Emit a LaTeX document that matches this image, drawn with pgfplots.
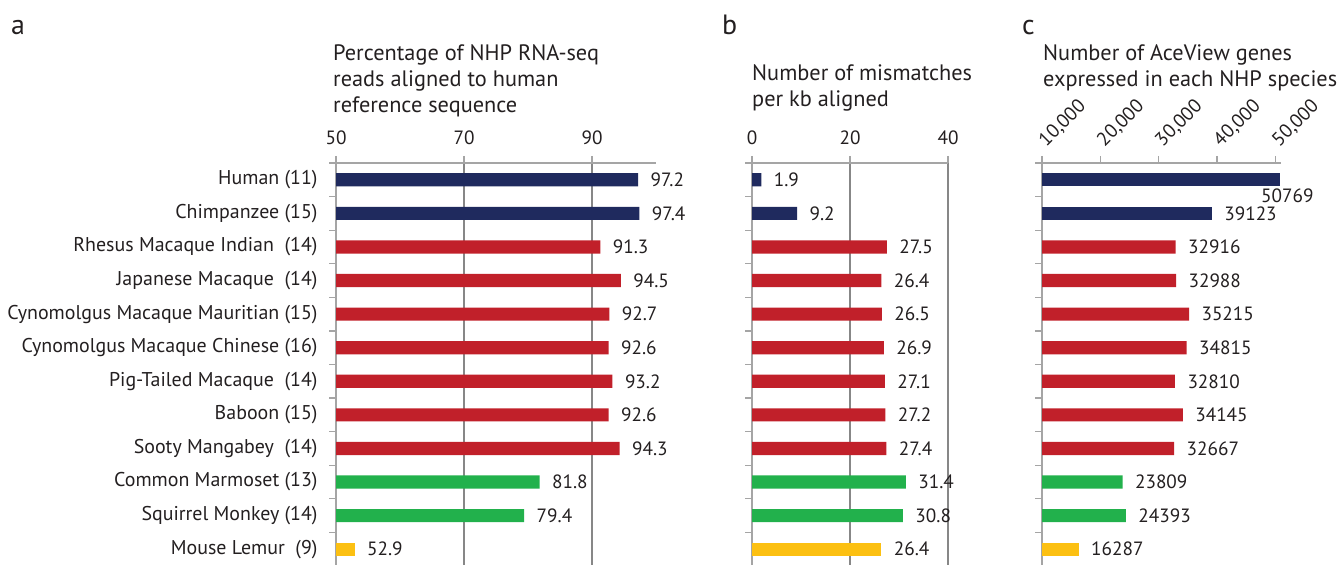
\documentclass[border=0pt]{standalone}
\usepackage{fontspec}
\setmainfont{PT Sans}
\usepackage{pgfplots}
\pgfplotsset{compat=1.18}
\definecolor{navy}{RGB}{31,42,94}
\definecolor{cred}{RGB}{193,32,42}
\definecolor{cgreen}{RGB}{34,177,76}
\definecolor{cyellow}{RGB}{252,192,18}
\definecolor{txt}{RGB}{35,31,32}
\definecolor{axgray}{RGB}{165,165,165}
\definecolor{grgray}{RGB}{135,135,135}
\newcommand{\lab}{\fontsize{20}{23}\selectfont}
\newcommand{\num}{\fontsize{19.3}{22}\selectfont}
\newcommand{\ttl}{\fontsize{22.4}{26}\selectfont}
\pgfplotsset{
  panel/.style={
    scale only axis, xbar, y dir=reverse, ymin=-0.5, ymax=11.5,
    axis x line*=top, axis y line*=left,
    axis line style={-, draw=axgray, line width=1.6bp},
    tick align=outside, major tick length=7bp,
    tick style={draw=axgray, line width=1.2bp},
    ytick={-0.5,0.5,...,11.5}, yticklabel={\mbox{}},
    height=403bp,
    bar width=0.39,
    xticklabel style={font=\num, text=txt, yshift=8bp},
    /pgf/number format/assume math mode=true,
    every node near coord/.append style={font=\num, text=txt, anchor=west, xshift=9bp},
    nodes near coords, point meta=explicit symbolic,
    grid style={draw=grgray, line width=1.2bp},
  },
}
\begin{document}
\begin{tikzpicture}[x=1bp,y=1bp]
\path[use as bounding box] (0,0) rectangle (1337,565);
% panel letters
\node[anchor=base west, inner sep=0, text=txt, font=\fontsize{28}{30}\selectfont] at (11,530) {a};
\node[anchor=base west, inner sep=0, text=txt, font=\fontsize{28}{30}\selectfont] at (722,530) {b};
\node[anchor=base west, inner sep=0, text=txt, font=\fontsize{28}{30}\selectfont] at (1022,530) {c};
% titles
\begin{scope}[every node/.style={anchor=base west, inner sep=0, text=txt, font=\ttl}]
\node at (333,504) {Percentage of NHP RNA-seq};
\node at (333,478) {reads aligned to human};
\node at (333,452) {reference sequence};
\node at (752,484) {Number of mismatches};
\node at (752,458) {per kb aligned};
\node at (1043,504) {Number of AceView genes};
\node at (1043,478) {expressed in each NHP species};
\end{scope}

% panel a
\begin{axis}[panel, at={(336bp,-1bp)}, anchor=south west, width=320bp,
  xmin=50, xmax=100, xtick={50,70,90}, xmajorgrids,
  extra y ticks={0,...,11},
  extra y tick labels={Human (11),Chimpanzee (15),Rhesus Macaque Indian\ \ (14),Japanese Macaque\ \ (14),Cynomolgus Macaque Mauritian (15),Cynomolgus Macaque Chinese (16),Pig-Tailed Macaque\ \ (14),Baboon (15),Sooty Mangabey\ \ (14),Common Marmoset (13),Squirrel Monkey (14),Mouse Lemur\ \ (9)},
  extra y tick style={major tick length=0pt, major tick style={draw=none}, yticklabel style={font=\lab, text=txt, xshift=-15bp}},
]
\addplot[bar shift=0pt, fill=navy, draw=none] coordinates {(97.2,0) [97.2] (97.4,1) [97.4]};
\addplot[bar shift=0pt, fill=cred, draw=none] coordinates {(91.3,2) [91.3] (94.5,3) [94.5] (92.7,4) [92.7] (92.6,5) [92.6] (93.2,6) [93.2] (92.6,7) [92.6] (94.3,8) [94.3]};
\addplot[bar shift=0pt, fill=cgreen, draw=none] coordinates {(81.8,9) [81.8] (79.4,10) [79.4]};
\addplot[bar shift=0pt, fill=cyellow, draw=none] coordinates {(52.9,11) [52.9]};
\end{axis}

% panel b
\begin{axis}[panel, at={(752bp,-1bp)}, anchor=south west, width=196bp,
  xmin=0, xmax=40, xtick={0,20,40}, xmajorgrids,
]
\addplot[bar shift=0pt, fill=navy, draw=none] coordinates {(1.9,0) [1.9] (9.2,1) [9.2]};
\addplot[bar shift=0pt, fill=cred, draw=none] coordinates {(27.5,2) [27.5] (26.4,3) [26.4] (26.5,4) [26.5] (26.9,5) [26.9] (27.1,6) [27.1] (27.2,7) [27.2] (27.4,8) [27.4]};
\addplot[bar shift=0pt, fill=cgreen, draw=none] coordinates {(31.4,9) [31.4] (30.8,10) [30.8]};
\addplot[bar shift=0pt, fill=cyellow, draw=none] coordinates {(26.4,11) [26.4]};
\end{axis}

% panel c
\begin{axis}[panel, at={(1042bp,-1bp)}, anchor=south west, width=239bp,
  xmin=10000, xmax=51000, xtick={10000,20000,30000,40000,50000},
  scaled x ticks=false,
  xticklabels={{10,000},{20,000},{30,000},{40,000},{50,000}},
  xticklabel style={rotate=45, anchor=south west, yshift=-9bp},
]
\addplot[bar shift=0pt, fill=navy, draw=none, nodes near coords style={anchor=north west, xshift=-31bp, yshift=-6bp}] coordinates {(50769,0) [50769]};
\addplot[bar shift=0pt, fill=navy, draw=none] coordinates {(39123,1) [39123]};
\addplot[bar shift=0pt, fill=cred, draw=none] coordinates {(32916,2) [32916] (32988,3) [32988] (35215,4) [35215] (34815,5) [34815] (32810,6) [32810] (34145,7) [34145] (32667,8) [32667]};
\addplot[bar shift=0pt, fill=cgreen, draw=none] coordinates {(23809,9) [23809] (24393,10) [24393]};
\addplot[bar shift=0pt, fill=cyellow, draw=none] coordinates {(16287,11) [16287]};
\end{axis}
\end{tikzpicture}
\end{document}
